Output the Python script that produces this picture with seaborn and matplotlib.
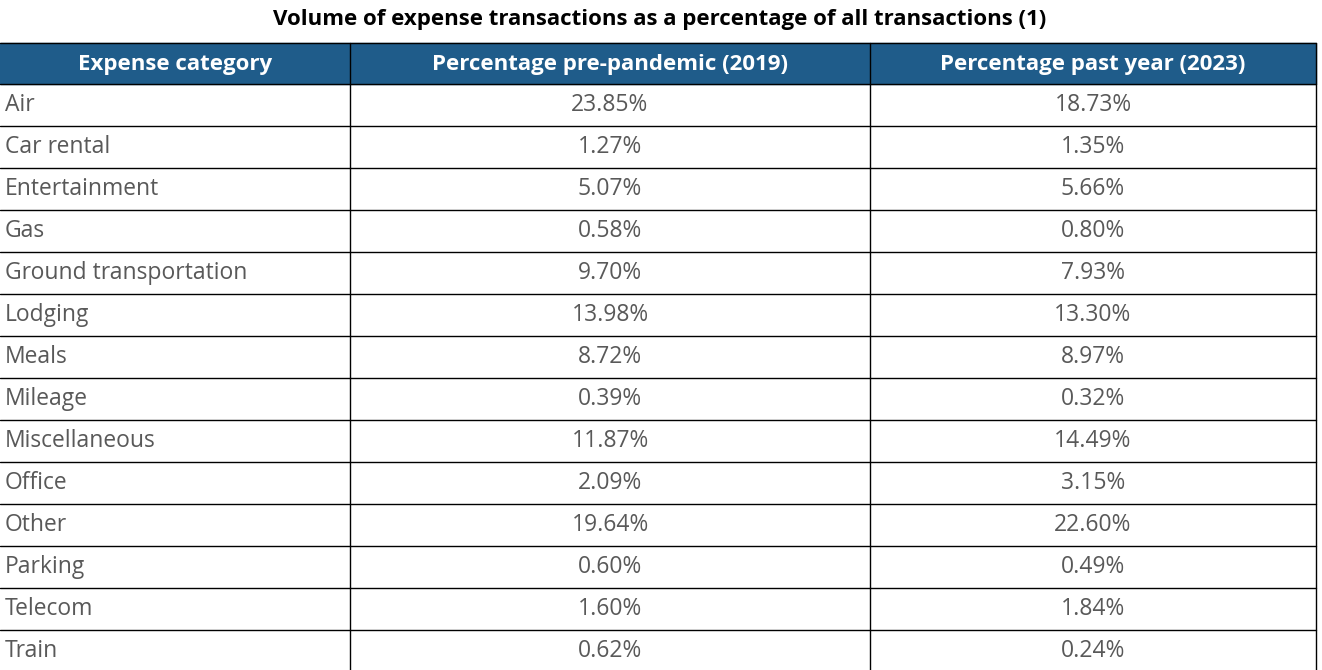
import matplotlib
matplotlib.use("Agg")
import matplotlib.pyplot as plt
import seaborn as sns

title = "Volume of expense transactions as a percentage of all transactions (1)"
headers = ["Expense category", "Percentage pre-pandemic (2019)", "Percentage past year (2023)"]
categories = ["Air", "Car rental", "Entertainment", "Gas", "Ground transportation", "Lodging",
              "Meals", "Mileage", "Miscellaneous", "Office", "Other", "Parking", "Telecom", "Train"]
pct_2019 = [23.85, 1.27, 5.07, 0.58, 9.70, 13.98, 8.72, 0.39, 11.87, 2.09, 19.64, 0.60, 1.60, 0.62]
pct_2023 = [18.73, 1.35, 5.66, 0.80, 7.93, 13.30, 8.97, 0.32, 14.49, 3.15, 22.60, 0.49, 1.84, 0.24]

sns.set_theme(style="white", font="Open Sans")
fig = plt.figure(figsize=(13.22, 6.70), dpi=100)
ax = fig.add_axes([0, 0, 1, 1])
ax.set_xlim(0, 1322)
ax.set_ylim(670, 0)
ax.axis("off")

W, H = 1322, 670
col_x = [0, 350, 870, 1316]
header_top, row_top, row_h = 43, 84, 42
gray = "#595959"
blue = "#1F5C8A"

ax.text(660, 20, title, ha="center", va="center", fontsize=16, fontweight="bold", color="black")
ax.add_patch(plt.Rectangle((0, header_top), col_x[-1], row_top - header_top, color=blue, zorder=0))
centers = [(col_x[i] + col_x[i + 1]) / 2 for i in range(3)]
for c, h in zip(centers, headers):
    ax.text(c, (header_top + row_top) / 2 + 1, h, ha="center", va="center",
            fontsize=16, fontweight="bold", color="white")

for i, (cat, a, b) in enumerate(zip(categories, pct_2019, pct_2023)):
    y = row_top + row_h * i + row_h / 2
    ax.text(5, y, cat, ha="left", va="center", fontsize=16.5, color=gray)
    ax.text(centers[1], y, f"{a:.2f}%", ha="center", va="center", fontsize=16.5, color=gray)
    ax.text(centers[2], y, f"{b:.2f}%", ha="center", va="center", fontsize=16.5, color=gray)

n = len(categories)
for i in range(n + 1):
    y = row_top + row_h * i
    ax.plot([0, col_x[-1]], [y, y], color="black", lw=1)
ax.plot([0, col_x[-1]], [header_top, header_top], color="black", lw=1)
for x in col_x[1:]:
    ax.plot([x, x], [header_top, H], color="black", lw=1)

fig.savefig("out.png", dpi=100)
